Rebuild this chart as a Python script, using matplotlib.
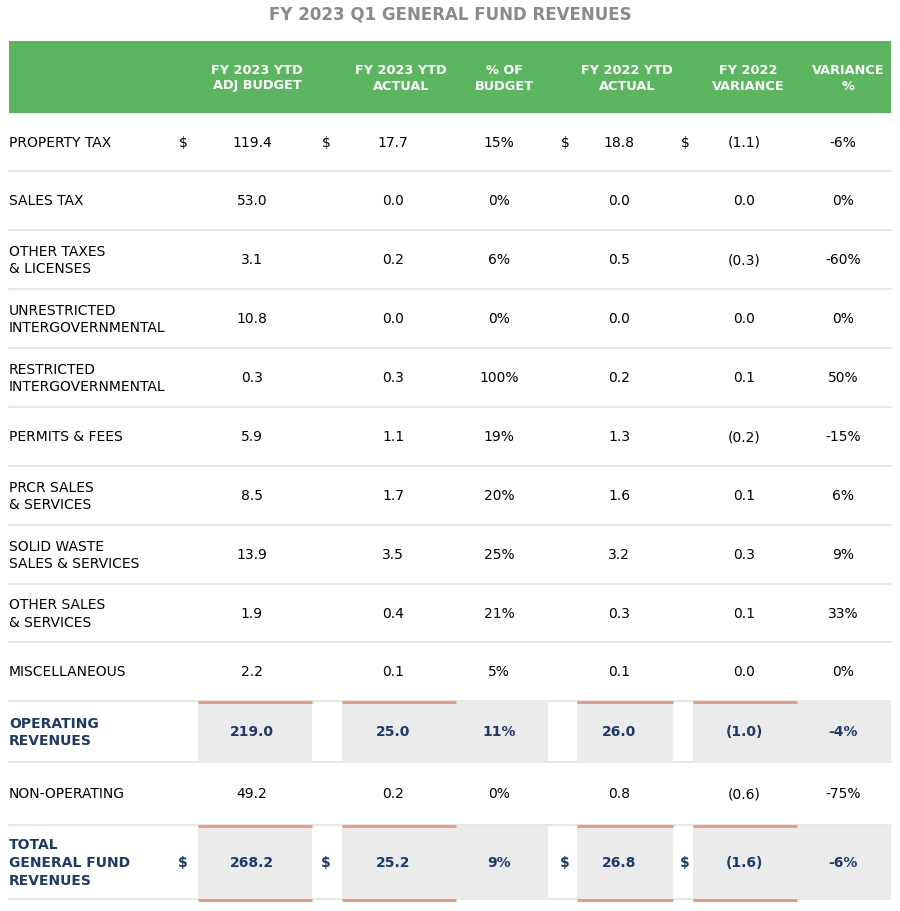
import matplotlib.pyplot as plt
from matplotlib.patches import Rectangle

# table data (values in $ millions)
title = "FY 2023 Q1 GENERAL FUND REVENUES"
headers = ["FY 2023 YTD\nADJ BUDGET", "FY 2023 YTD\nACTUAL", "% OF\nBUDGET",
           "FY 2022 YTD\nACTUAL", "FY 2022\nVARIANCE", "VARIANCE\n%"]
labels = ["PROPERTY TAX", "SALES TAX", "OTHER TAXES\n& LICENSES",
          "UNRESTRICTED\nINTERGOVERNMENTAL", "RESTRICTED\nINTERGOVERNMENTAL",
          "PERMITS & FEES", "PRCR SALES\n& SERVICES", "SOLID WASTE\nSALES & SERVICES",
          "OTHER SALES\n& SERVICES", "MISCELLANEOUS", "OPERATING\nREVENUES",
          "NON-OPERATING", "TOTAL\nGENERAL FUND\nREVENUES"]
budget_2023 = [119.4, 53.0, 3.1, 10.8, 0.3, 5.9, 8.5, 13.9, 1.9, 2.2, 219.0, 49.2, 268.2]
actual_2023 = [17.7, 0.0, 0.2, 0.0, 0.3, 1.1, 1.7, 3.5, 0.4, 0.1, 25.0, 0.2, 25.2]
pct_budget = [15, 0, 6, 0, 100, 19, 20, 25, 21, 5, 11, 0, 9]
actual_2022 = [18.8, 0.0, 0.5, 0.0, 0.2, 1.3, 1.6, 3.2, 0.3, 0.1, 26.0, 0.8, 26.8]
variance_2022 = [-1.1, 0.0, -0.3, 0.0, 0.1, -0.2, 0.1, 0.3, 0.1, 0.0, -1.0, -0.6, -1.6]
variance_pct = [-6, 0, -60, 0, 50, -15, 6, 9, 33, 0, -4, -75, -6]
total_rows = [10, 12]      # bold / shaded rows
dollar_rows = [0, 12]      # rows showing $ signs

# layout (pixels)
row_edges = [114, 172, 231, 290, 349, 408, 467, 526, 585, 643, 702, 763, 826, 900]
head_x = [257, 401, 504, 627, 748, 848]
val_x = [252, 393, 499, 619, 744, 843]
dollar_x = [183, 326, None, 565, 685, None]
shade_cols = [(198, 312, True), (342, 456, True), (456, 548, False),
              (577, 673, True), (693, 797, True), (797, 891, False)]

green = "#5cb660"
navy = "#1d3a6b"
orange = "#e2997e"
line_c = "#e2e2e2"
shade = "#ebebeb"


def fmt_num(v):
    if v < 0:
        return "(%.1f)" % abs(v)
    return "%.1f" % v


fig = plt.figure(figsize=(9, 9.12), dpi=100)
ax = fig.add_axes([0, 0, 1, 1])
ax.set_xlim(0, 900)
ax.set_ylim(912, 0)
ax.axis("off")

ax.text(450, 15, title, ha="center", va="center", fontsize=12,
        fontweight="bold", color="#8a8a8a")

# header band
ax.add_patch(Rectangle((9, 42), 882, 72, color=green, lw=0))
for x, h in zip(head_x, headers):
    ax.text(x, 78, h, ha="center", va="center", color="white", fontsize=9.3,
            fontweight="bold", linespacing=1.3)

for i, lab in enumerate(labels):
    top, bot = row_edges[i], row_edges[i + 1]
    yc = (top + bot) / 2
    bold = i in total_rows
    col = navy if bold else "black"
    fw = "bold" if bold else "normal"
    if bold:
        for x0, x1, orng in shade_cols:
            ax.add_patch(Rectangle((x0, top), x1 - x0, bot - top, color=shade, lw=0))
            if orng:
                ax.plot([x0, x1], [top + 1, top + 1], color=orange, lw=2,
                        solid_capstyle="butt")
                if i == 12:
                    ax.plot([x0, x1], [bot + 1.5, bot + 1.5], color=orange, lw=2,
                            solid_capstyle="butt")
    ax.plot([9, 891], [bot, bot], color=line_c, lw=1.2, zorder=0)

    ax.text(9, yc, lab, ha="left", va="center", fontsize=10, color=col,
            fontweight=fw, linespacing=1.35)
    vals = [fmt_num(budget_2023[i]), fmt_num(actual_2023[i]), "%d%%" % pct_budget[i],
            fmt_num(actual_2022[i]), fmt_num(variance_2022[i]), "%d%%" % variance_pct[i]]
    for x, v in zip(val_x, vals):
        ax.text(x, yc, v, ha="center", va="center", fontsize=10, color=col,
                fontweight=fw)
    if i in dollar_rows:
        for dx in dollar_x:
            if dx is not None:
                ax.text(dx, yc, "$", ha="center", va="center", fontsize=10,
                        color=col, fontweight=fw)

fig.savefig("out.png", dpi=100)
